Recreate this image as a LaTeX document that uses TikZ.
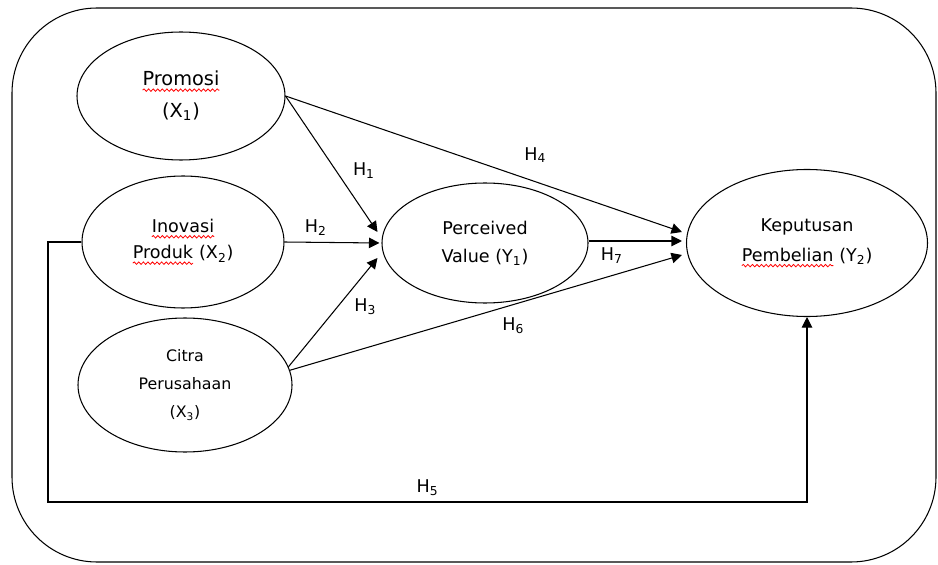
\documentclass[tikz,border=0pt]{standalone}
\usepackage{fontspec}
\setmainfont{DejaVu Sans}
\usetikzlibrary{shapes.geometric,arrows.meta,decorations.pathmorphing}
\newcommand\spellwave[1]{\tikz[baseline=(w.base)]{\node[shape=rectangle, draw=none, inner sep=0pt, outer sep=0pt, minimum width=0pt, minimum height=0pt] (w) {#1};
  \draw[red, line width=0.45pt, decorate, decoration={snake, amplitude=0.7pt, segment length=2.6pt}] ([yshift=-2.4pt]w.base west) -- ([yshift=-2.4pt]w.base east);}}
\begin{document}
\begin{tikzpicture}

      \tikzset{latent/.style={draw, ellipse, line width=0.6pt, inner sep=0pt, align=center, font=\fontsize{10}{15}\selectfont},
               hyp/.style={draw, line width=0.6pt, -{Triangle[length=2.1mm, width=2.1mm]}},
               hlabel/.style={font=\fontsize{10}{12}\selectfont}}
      \useasboundingbox (0,0) rectangle (18.76,11.28);
      \draw[line width=0.6pt, rounded corners=1.7cm] (0.24,0.04) rectangle (18.72,11.12);
%% Vertices
      	\node[latent, minimum width=4.16cm, minimum height=2.56cm, font=\fontsize{11}{18}\selectfont] (pr) at (3.62,9.36) {\spellwave{Promosi}\\(X\textsubscript{1})};
      	\node[latent, minimum width=4.04cm, minimum height=2.64cm] (in) at (3.66,6.44) {\spellwave{Inovasi}\\\spellwave{Produk} (X\textsubscript{2})};
    	\node[latent, minimum width=4.28cm, minimum height=2.68cm, font=\fontsize{9}{16}\selectfont] (ci) at (3.70,3.58) {Citra\\Perusahaan\\(X\textsubscript{3})};
  	    \node[latent, minimum width=4.12cm, minimum height=2.40cm, font=\fontsize{10}{16}\selectfont] (pv) at (9.70,6.42) {Perceived\\Value (Y\textsubscript{1})};
     	\node[latent, minimum width=4.82cm, minimum height=2.94cm, font=\fontsize{10}{17}\selectfont] (kp) at (16.14,6.42) {Keputusan\\\spellwave{Pembelian} (Y\textsubscript{2})};
      	\coordinate (h5) at (0.96,1.24);
%Edges
		\path (pr.east) edge[hyp] node[hlabel, pos=0.55, right=6pt] {H\textsubscript{1}} ([xshift=-0.08cm, yshift=0.22cm]pv.west);
		\path (in.east) edge[hyp] node[hlabel, pos=0.33, above] {H\textsubscript{2}} ([xshift=-0.04cm]pv.west);
		\path (ci.10) edge[hyp] node[hlabel, pos=0.55, right=6pt] {H\textsubscript{3}} ([xshift=-0.08cm, yshift=-0.30cm]pv.west);
		\path (pr.east) edge[hyp] node[hlabel, pos=0.63, above=7pt] {H\textsubscript{4}} ([xshift=-0.08cm, yshift=0.22cm]kp.west);
		\path (ci.8) edge[hyp] node[hlabel, pos=0.57, below=4pt] {H\textsubscript{6}} ([xshift=-0.08cm, yshift=-0.24cm]kp.west);
		\path ([yshift=0.04cm]pv.east) edge[hyp] node[hlabel, pos=0.25, below] {H\textsubscript{7}} ([xshift=-0.08cm, yshift=0.04cm]kp.west);
		\draw[hyp] (in.west) -| (h5) -- node[hlabel, above] {H\textsubscript{5}} (h5 -| kp.south) -- (kp.south);

	\end{tikzpicture}
\end{document}
